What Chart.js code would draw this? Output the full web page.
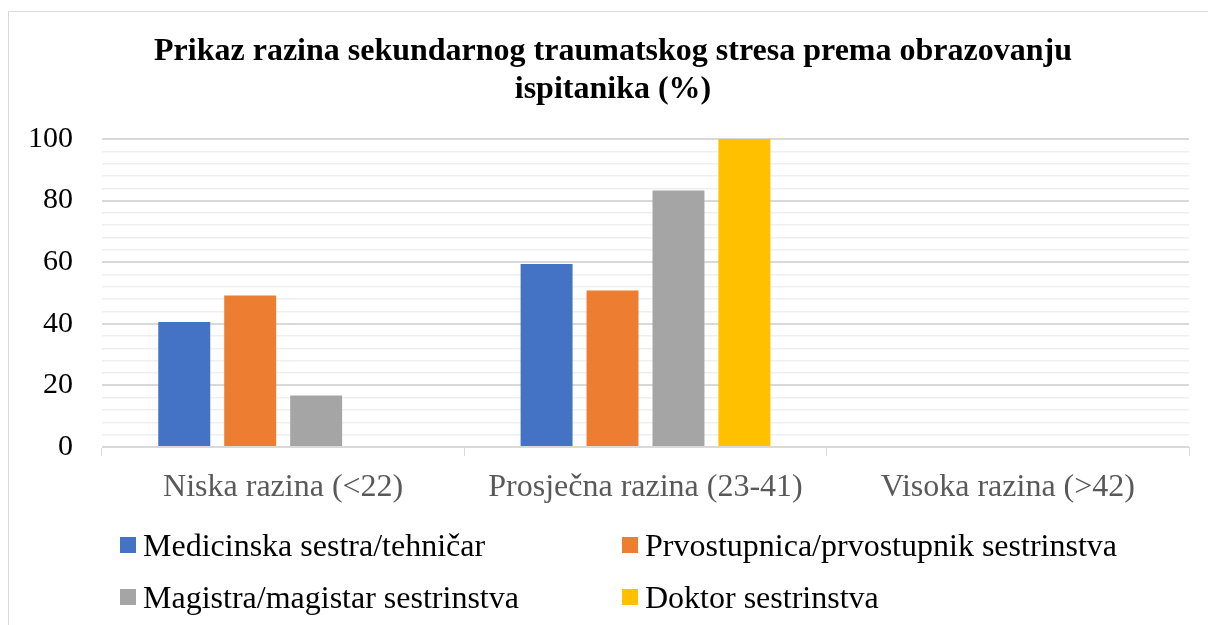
<!DOCTYPE html>
<html>
<head>
<meta charset="utf-8">
<script src="https://cdn.jsdelivr.net/npm/chart.js@4.4.1/dist/chart.umd.min.js"></script>
<style>
  html, body { margin: 0; padding: 0; background: #fff; }
  body { width: 1208px; height: 625px; overflow: hidden; position: relative; }
  #frame {
    position: absolute; left: 8px; top: 11px; width: 1230px; height: 700px;
    border: 1px solid #d9d9d9; box-sizing: border-box;
  }
  #chart { position: absolute; left: 0; top: 0; }
  #legend {
    position: absolute; left: 120px; top: 519px;
    display: grid; grid-template-columns: 502px 502px; grid-auto-rows: 52px;
    font-family: "Liberation Serif", "Times New Roman", serif; font-size: 32px; color: #000;
  }
  .legend__item { display: flex; align-items: center; white-space: nowrap; }
  .legend__swatch { width: 16px; height: 16px; margin-right: 7px; flex: none; }
</style>
</head>
<body>
<div id="frame"></div>
<canvas id="chart" width="1226" height="625"></canvas>
<div id="legend"></div>
<script>
  const TITLE = ["Prikaz razina sekundarnog traumatskog stresa prema obrazovanju", "ispitanika (%)"];
  const CATEGORIES = ["Niska razina (<22)", "Prosječna razina (23-41)", "Visoka razina (>42)"];
  const SERIES_NAMES = [
    "Medicinska sestra/tehničar",
    "Prvostupnica/prvostupnik sestrinstva",
    "Magistra/magistar sestrinstva",
    "Doktor sestrinstva",
  ];
  const MEDICINSKA = [40.6, 59.4, 0];
  const PRVOSTUPNIK = [49.2, 50.8, 0];
  const MAGISTAR = [16.7, 83.3, 0];
  const DOKTOR = [0, 100, 0];
  const COLORS = ["#4472C4", "#ED7D31", "#A5A5A5", "#FFC000"];

  const FONT = '"Liberation Serif", "Times New Roman", serif';
  const seriesValues = [MEDICINSKA, PRVOSTUPNIK, MAGISTAR, DOKTOR];

  const datasets = seriesValues.map(function (values, i) {
    return {
      label: SERIES_NAMES[i],
      data: values,
      backgroundColor: COLORS[i],
      categoryPercentage: 0.728,
      barPercentage: 0.788,
    };
  });

  // The plot area is offset right inside the frame, but the title is
  // centred on the whole frame, so stretch the title box to the canvas.
  const fullWidthTitle = {
    id: "fullWidthTitle",
    afterLayout: function (chart) {
      if (!chart.titleBlock) return;
      chart.titleBlock.left = 0;
      chart.titleBlock.right = chart.width;
    },
  };

  new Chart(document.getElementById("chart"), {
    type: "bar",
    data: { labels: CATEGORIES, datasets: datasets },
    plugins: [fullWidthTitle],
    options: {
      responsive: false,
      animation: false,
      layout: { padding: { left: 0, right: 37, top: 0, bottom: 108 } },
      plugins: {
        legend: { display: false },
        tooltip: { enabled: false },
        title: {
          display: true,
          text: TITLE,
          color: "#000",
          font: { family: FONT, size: 32, weight: "bold", lineHeight: 1.1875 },
          padding: { top: 33, bottom: 30 },
        },
      },
      scales: {
        x: {
          afterFit: function (scale) { scale.height = 70; },
          border: { display: true, color: "#d9d9d9", width: 1 },
          grid: {
            offset: true,
            drawOnChartArea: false,
            drawTicks: true,
            tickLength: 9,
            color: "#d9d9d9",
          },
          ticks: {
            color: "#595959",
            font: { family: FONT, size: 32 },
            padding: 12,
            maxRotation: 0,
          },
        },
        y: {
          min: 0,
          max: 100,
          afterFit: function (scale) { scale.width = 102; },
          border: { display: false },
          grid: {
            drawTicks: false,
            color: function (ctx) {
              return ctx.tick && ctx.tick.value % 20 === 0 ? "#d9d9d9" : "#efefef";
            },
            lineWidth: function (ctx) {
              return ctx.tick && ctx.tick.value % 20 === 0 ? 2 : 1.5;
            },
          },
          ticks: {
            stepSize: 4,
            autoSkip: false,
            color: "#000",
            padding: 29,
            font: { family: FONT, size: 30 },
            callback: function (v) { return v % 20 === 0 ? v : ""; },
          },
        },
      },
    },
  });

  // two-column legend like the original, built from the series arrays
  const legend = document.getElementById("legend");
  legend.innerHTML = SERIES_NAMES.map(function (name, i) {
    return '<div class="legend__item"><span class="legend__swatch" style="background:' +
      COLORS[i] + '"></span><span>' + name + "</span></div>";
  }).join("");
</script>
</body>
</html>
